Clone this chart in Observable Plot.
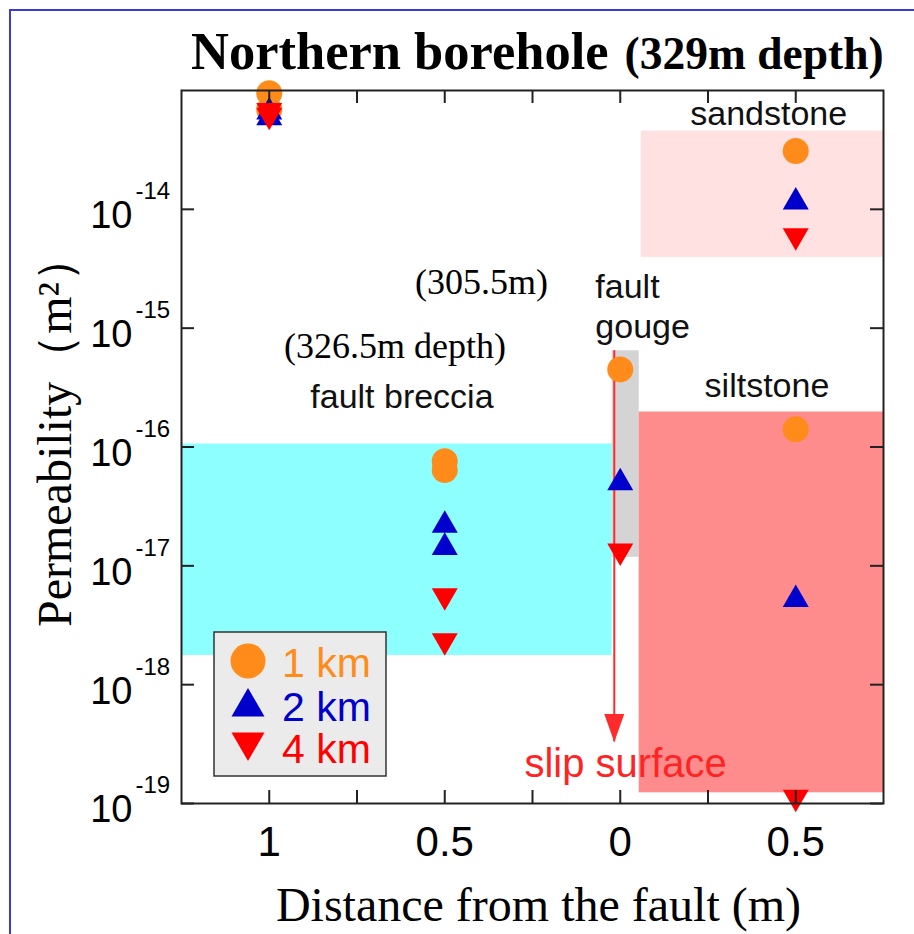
<!DOCTYPE html>
<html><head><meta charset="utf-8">
<script src="https://cdn.jsdelivr.net/npm/d3@7"></script>
<script src="https://cdn.jsdelivr.net/npm/@observablehq/plot@0.6"></script>
<style>
body{margin:0;background:#fff;}
#wrap{position:relative;width:914px;height:934px;overflow:hidden;background:#fff;}
#chart{position:absolute;left:0;top:0;}
#border{position:absolute;left:9px;top:9px;width:1000px;height:1000px;border-left:2px solid #3b3bd6;border-top:2px solid #3b3bd6;pointer-events:none;}
#title{position:absolute;left:191px;top:25px;font-family:"Liberation Serif",serif;font-weight:bold;font-size:52.5px;line-height:1;white-space:nowrap;color:#000;}
#title span{font-size:45.5px;margin-left:16px;}
#legend{position:absolute;left:213px;top:631px;}
</style></head><body>
<div id="wrap"><div id="chart"></div><div id="title">Northern borehole<span>(329m depth)</span></div><div id="legend"></div><div id="border"></div></div>
<script>
// ---- series ----
const series = ["1 km", "2 km", "4 km"];
const seriesColors = ["#ff8c1a", "#0000cc", "#ff0000"];

// signed distance from the fault (negative = hanging side, shown as absolute value)
const pos1km = [-1, -1, -0.5, -0.5, 0, 0.5, 0.5];
const perm1km = [9.5e-14, 6.9e-14, 7.6e-17, 6.4e-17, 4.5e-16, 3.1e-14, 1.41e-16];
const pos2km = [-1, -1, -0.5, -0.5, 0, 0.5, 0.5];
const perm2km = [6.6e-14, 5.9e-14, 2.2e-17, 1.43e-17, 5.0e-17, 1.15e-14, 5.2e-18];
const pos4km = [-1, -1, -0.5, -0.5, 0, 0.5, 0.5];
const perm4km = [6.8e-14, 6.2e-14, 5.6e-18, 2.34e-18, 1.33e-17, 6.0e-15, 1.13e-19];

// ---- zones ----
const zoneNames = ["fault breccia", "fault gouge", "siltstone", "sandstone"];
const zoneX1 = [-1.25, -0.023, 0.054, 0.06];
const zoneX2 = [-0.023, 0.054, 0.75, 0.75];
const zoneY1 = [1.76e-18, 1.18e-17, 1.23e-19, 3.94e-15];
const zoneY2 = [1.06e-16, 6.45e-16, 1.97e-16, 4.55e-14];
const zoneFill = ["#8effff", "#d4d4d4", "#ff8c8c", "#ffe1e1"];

// ---- slip surface ----
const slipX = [-0.017];
const slipTop = [6.45e-16];
const slipTip = [3.3e-19];

// ---- ticks ----
const xMinorTicks = [-1, -0.75, -0.5, -0.25, 0, 0.25, 0.5];
const xLabelPos = [-1, -0.5, 0, 0.5];
const xLabels = ["1", "0.5", "0", "0.5"];
const yTicks = [1e-14, 1e-15, 1e-16, 1e-17, 1e-18, 1e-19];
const yExponents = ["-14", "-15", "-16", "-17", "-18", "-19"];

// ---- annotations ----
const noteCenterText = ["sandstone", "siltstone", "fault breccia"];
const noteCenterX = [0.423, 0.418, -0.622];
const noteCenterY = [6.33e-14, 3.27e-16, 2.64e-16];
const noteStartText = ["fault", "gouge"];
const noteStartX = [-0.071, -0.071];
const noteStartY = [2.2e-15, 1.03e-15];
const depthText = ["(305.5m)", "(326.5m depth)"];
const depthX = [-0.395, -0.642];
const depthY = [2.44e-15, 7.05e-16];
const slipLabel = ["slip surface"];
const slipLabelX = [-0.273];
const slipLabelY = [2.15e-19];

const SANS = "Liberation Sans, Arial, sans-serif";
const SERIF = "Liberation Serif, Times New Roman, serif";
const W = 914, H = 934, mT = 90, mB = 131, mL = 181, mR = 31;
const frameW = W - mL - mR, frameH = H - mT - mB, tick = 13;

const arrowHead = {
  draw(ctx, size) {
    const r = Math.sqrt(size / Math.PI);
    ctx.moveTo(-r, -2.8 * r);
    ctx.lineTo(r, -2.8 * r);
    ctx.lineTo(0, 0);
    ctx.closePath();
  }
};

const idx = arr => arr.map((_, i) => i);

const chart = Plot.plot({
  width: W, height: H,
  marginTop: mT, marginBottom: mB, marginLeft: mL, marginRight: mR,
  style: {background: "#fff", fontFamily: SANS},
  x: {domain: [-1.25, 0.75], axis: null},
  y: {type: "log", domain: [1e-19, 1e-13], axis: null},
  marks: [
    Plot.rect(idx(zoneNames), {x1: i => zoneX1[i], x2: i => zoneX2[i], y1: i => zoneY1[i], y2: i => zoneY2[i], fill: i => zoneFill[i]}),
    Plot.ruleX(idx(slipX), {x: i => slipX[i], y1: i => slipTop[i], y2: i => slipTip[i], stroke: "#ff2a2a", strokeWidth: 2}),
    Plot.dot(idx(slipX), {x: i => slipX[i], y: i => slipTip[i], symbol: arrowHead, r: 10, fill: "#ff2a2a", stroke: "none"}),
    Plot.text(idx(noteCenterText), {x: i => noteCenterX[i], y: i => noteCenterY[i], text: i => noteCenterText[i], fontSize: 34, fontFamily: SANS, fill: "#111"}),
    Plot.text(idx(noteStartText), {x: i => noteStartX[i], y: i => noteStartY[i], text: i => noteStartText[i], textAnchor: "start", fontSize: 34, fontFamily: SANS, fill: "#111"}),
    Plot.text(idx(depthText), {x: i => depthX[i], y: i => depthY[i], text: i => depthText[i], fontSize: 36, fontFamily: SERIF, fill: "#000"}),
    Plot.text(idx(slipLabel), {x: i => slipLabelX[i], y: i => slipLabelY[i], text: i => slipLabel[i], textAnchor: "start", fontSize: 40, fontFamily: SANS, fill: "#ff2424"}),
    Plot.dot(idx(pos1km), {x: i => pos1km[i], y: i => perm1km[i], symbol: "circle", r: 13, fill: seriesColors[0], stroke: "none"}),
    Plot.dot(idx(pos2km), {x: i => pos2km[i], y: i => perm2km[i], symbol: "triangle", r: 9.65, fill: seriesColors[1], stroke: "none"}),
    Plot.dot(idx(pos4km), {x: i => pos4km[i], y: i => perm4km[i], symbol: "triangle", rotate: 180, r: 9.65, fill: seriesColors[2], stroke: "none"}),
    Plot.frame({stroke: "#222", strokeWidth: 2}),
    Plot.tickX(xMinorTicks, {x: d => d, insetTop: frameH - tick, stroke: "#222", strokeWidth: 2}),
    Plot.tickX(xMinorTicks, {x: d => d, insetBottom: frameH - tick, stroke: "#222", strokeWidth: 2}),
    Plot.tickY(yTicks, {y: d => d, insetRight: frameW - tick, stroke: "#222", strokeWidth: 2}),
    Plot.tickY(yTicks, {y: d => d, insetLeft: frameW - tick, stroke: "#222", strokeWidth: 2}),
    Plot.text(yTicks, {y: d => d, frameAnchor: "left", text: () => "10", textAnchor: "end", lineAnchor: "middle", dx: -49, dy: 6.8, fontSize: 38, fontFamily: SANS, fill: "#000"}),
    Plot.text(yTicks, {y: d => d, frameAnchor: "left", text: (d, i) => yExponents[i], textAnchor: "start", lineAnchor: "middle", dx: -46, dy: -17.7, fontSize: 24, fontFamily: SANS, fill: "#000"}),
    Plot.text(xLabelPos, {x: d => d, frameAnchor: "bottom", text: (d, i) => xLabels[i], textAnchor: "middle", lineAnchor: "middle", dy: 39, fontSize: 42, fontFamily: SANS, fill: "#000"}),
    Plot.text(["Distance from the fault (m)"], {frameAnchor: "bottom", text: d => d, textAnchor: "middle", lineAnchor: "middle", dx: 6, dy: 102, fontSize: 48, fontFamily: SERIF, fill: "#000"}),
    Plot.text(["Permeability（m²）"], {frameAnchor: "left", text: d => d, rotate: -90, textAnchor: "middle", lineAnchor: "middle", dx: -126, dy: -16.5, fontSize: 48, fontFamily: SERIF, fill: "#000"})
  ]
});
document.getElementById("chart").append(chart);

// ---- legend ----
const leg = d3.select("#legend").append("svg").attr("width", 176).attr("height", 148);
leg.append("rect").attr("x", 1).attr("y", 1).attr("width", 172).attr("height", 144)
  .attr("fill", "#ebebeb").attr("stroke", "#333").attr("stroke-width", 1.5);
const legSymY = [30, 76, 111];
const legTextY = [46, 90, 132];
series.forEach((s, i) => {
  const g = leg.append("g");
  if (i === 0) {
    g.append("circle").attr("cx", 35).attr("cy", legSymY[i]).attr("r", 17.5).attr("fill", seriesColors[i]);
  } else {
    g.append("path").attr("d", d3.symbol(d3.symbolTriangle, 472)())
      .attr("transform", `translate(35,${legSymY[i]}) rotate(${i === 2 ? 180 : 0})`)
      .attr("fill", seriesColors[i]);
  }
  g.append("text").attr("x", 69).attr("y", legTextY[i]).attr("font-family", SANS)
    .attr("font-size", 41).attr("fill", seriesColors[i]).text(s);
});
</script>
</body></html>
